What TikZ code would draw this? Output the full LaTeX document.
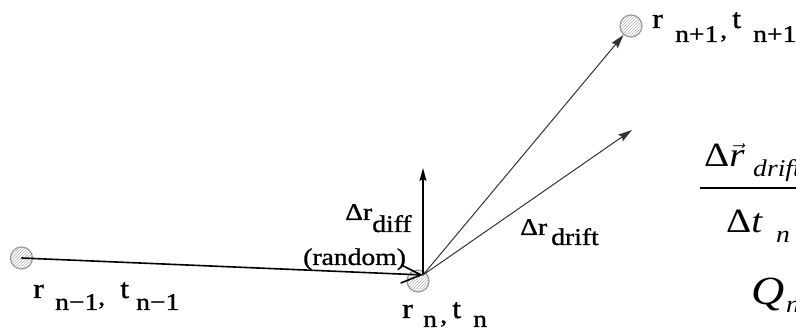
\documentclass[tikz,border=0pt]{standalone}
\usepackage{fontspec}
\setmainfont{Liberation Serif}
\newfontfamily\tnr{Liberation Serif}[FakeBold=1]
\newfontfamily\tnm{Liberation Serif}
\usetikzlibrary{arrows.meta,patterns}
\begin{document}
\begin{tikzpicture}[x=1pt,y=1pt,
  ball/.style={circle,draw=gray!80,line width=1.2pt,minimum size=22pt,inner sep=0pt,
    pattern=north east lines,pattern color=gray!60},
  lbl/.style={anchor=base west,inner sep=0pt,xscale=1.15,font=\tnr\fontsize{24}{24}\selectfont},
  big/.style={lbl,font=\tnr\fontsize{28}{28}\selectfont},
  mth/.style={anchor=base west,inner sep=0pt,xscale=1.15,font=\tnm\fontsize{34}{34}\selectfont},
  msub/.style={anchor=base west,inner sep=0pt,xscale=1.15,font=\tnm\fontsize{24}{24}\selectfont\itshape},
  thick arrow/.style={line width=1.6pt,-{Straight Barb[length=20pt,width=18pt]}},
  up arrow/.style={line width=1.2pt,-{Stealth[length=13pt,width=7pt,inset=2pt]}},
  thin arrow/.style={line width=1pt,draw=black!80,-{Stealth[length=14pt,width=8pt,inset=2pt]}}]
\useasboundingbox (0,0) rectangle (796,336);
% particles
\node[ball] (p0) at (21.5,78) {};
\node[ball] (p1) at (418,55) {};
\node[ball] (p2) at (631,310) {};
\coordinate (o) at (423,61);
\coordinate (up) at (423,168);
\coordinate (dr) at (632,206);
% connectors
\draw[thick arrow] (p0.center) -- (o);
\draw[up arrow] (o) -- (up);
\draw[thin arrow] (o) -- (dr);
\draw[thin arrow] (o) -- (p2);
% label r_{n-1}, t_{n-1}
\node[big] (a1) at (33,38) {r};
\node[lbl] (a2) at (55,26) {n−1};
\node[lbl] (a3) at (98,31) {,};
\node[big] (a4) at (120,38) {t};
\node[lbl] (a5) at (136,26) {n−1};
% label r_n, t_n
\node[big] (b1) at (402,18) {r};
\node[lbl] (b2) at (423,9) {n};
\node[lbl] (b3) at (440,13) {,};
\node[big] (b4) at (452,18) {t};
\node[lbl] (b5) at (473,9) {n};
% label r_{n+1}, t_{n+1}
\node[big] (c1) at (652,308) {r};
\node[lbl] (c2) at (675,294) {n+1};
\node[lbl] (c3) at (720,298) {,};
\node[big] (c4) at (732,308) {t};
\node[lbl] (c5) at (753,294) {n+1};
% vector labels
\node[lbl] (d1) at (345,116) {Δr};
\node[lbl] (d2) at (372,104) {diff};
\node[lbl] (d3) at (303,71) {(random)};
\node[lbl] (e1) at (520,101) {Δr};
\node[lbl] (e2) at (551,91) {drift};
% formula (cropped at the right edge)
\node[mth] (f1) at (704,169) {Δ\ensuremath{\vec{\mbox{\tnm\itshape r}}}};
\node[msub] (f2) at (753,159) {drift};
\draw[line width=1.5pt] (700,148) -- (800,148);
\node[mth] (f3) at (726,103) {Δ\textit{t}};
\node[msub] (f4) at (776,93) {n};
\node[mth,font=\tnm\fontsize{40}{40}\selectfont\itshape] (f5) at (751,31) {Q};
\node[msub] (f6) at (786,23) {n};
\end{tikzpicture}
\end{document}
